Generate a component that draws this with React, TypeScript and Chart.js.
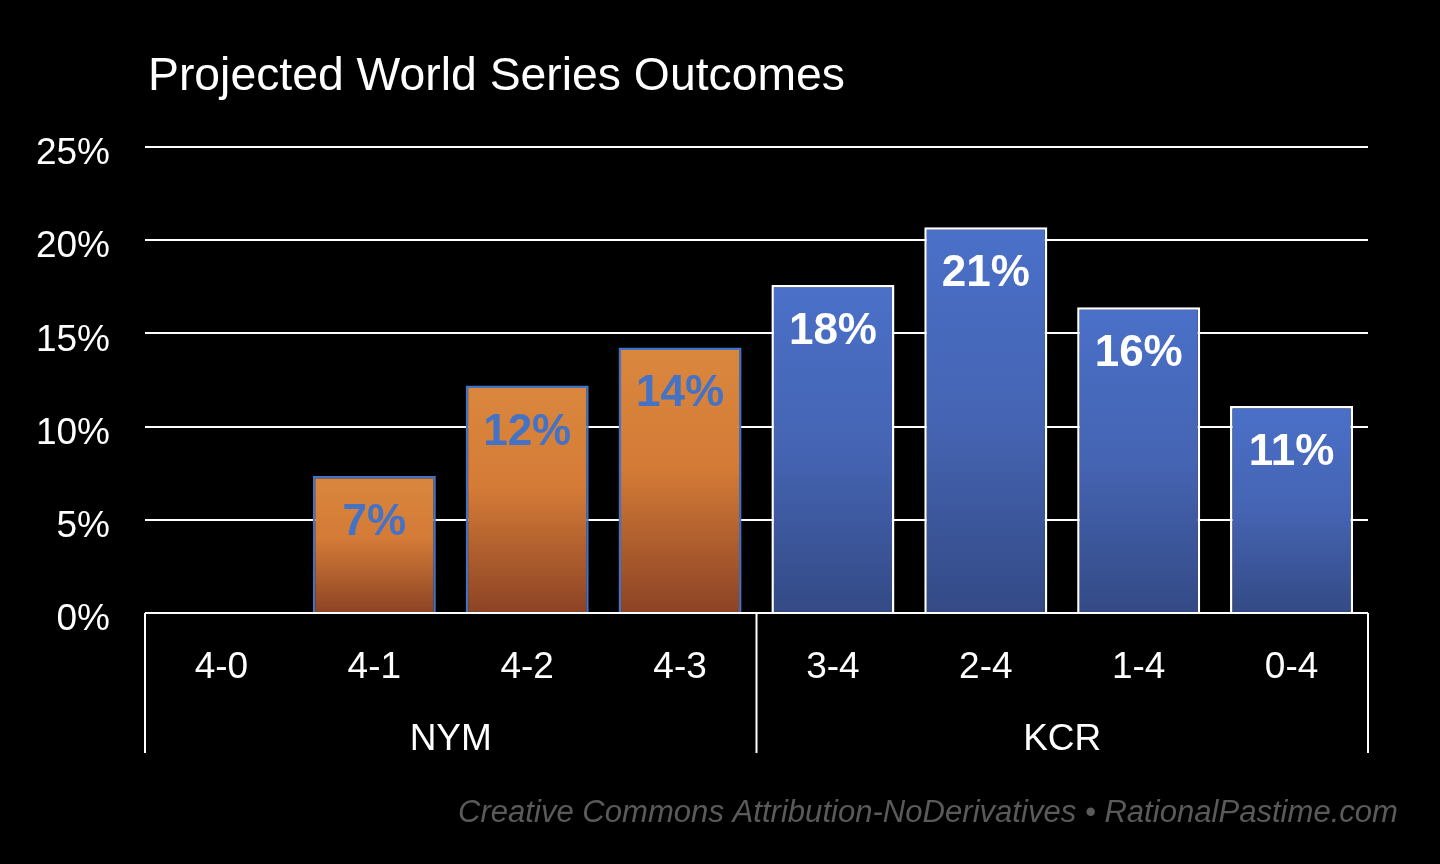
import { useEffect, useRef } from "react";
import { Chart, registerables } from "chart.js";

Chart.register(...registerables);

const TITLE = "Projected World Series Outcomes";
const FOOTER = "Creative Commons Attribution-NoDerivatives • RationalPastime.com";
const outcomes = ["4-0", "4-1", "4-2", "4-3", "3-4", "2-4", "1-4", "0-4"];
const winProbability = [0, 7.35, 12.2, 14.25, 17.6, 20.7, 16.4, 11.1];
const teams = ["NYM", "KCR"];
const teamGroupSize = [4, 4];
const yTickValues = [0, 5, 10, 15, 20, 25];

const FONT = "'Liberation Sans', Arial, Helvetica, sans-serif";

function teamIndexOf(i: number) {
  let acc = 0;
  for (let t = 0; t < teamGroupSize.length; t++) {
    acc += teamGroupSize[t];
    if (i < acc) return t;
  }
  return teamGroupSize.length - 1;
}

function fitText(
  ctx: CanvasRenderingContext2D,
  text: string,
  x: number,
  y: number,
  width: number,
  align: "left" | "right"
) {
  const w = ctx.measureText(text).width;
  const s = width / w;
  ctx.save();
  ctx.translate(x, y);
  ctx.scale(s, 1);
  ctx.textAlign = align;
  ctx.fillText(text, 0, 0);
  ctx.restore();
}

const decorPlugin = {
  id: "decor",
  afterDatasetsDraw(chart: any) {
    const ctx = chart.ctx as CanvasRenderingContext2D;
    const meta = chart.getDatasetMeta(0);
    ctx.save();
    ctx.font = `bold 44px ${FONT}`;
    ctx.textAlign = "center";
    ctx.textBaseline = "alphabetic";
    meta.data.forEach((bar: any, i: number) => {
      const v = winProbability[i];
      if (v < 1) return;
      ctx.fillStyle = teamIndexOf(i) === 0 ? "#4472C4" : "#FFFFFF";
      ctx.fillText(`${Math.round(v)}%`, bar.x, bar.y + 59);
    });
    ctx.restore();
  },
  afterDraw(chart: any) {
    const ctx = chart.ctx as CanvasRenderingContext2D;
    const x = chart.scales.x;
    const area = chart.chartArea;
    ctx.save();
    // group separators
    ctx.strokeStyle = "#FFFFFF";
    ctx.lineWidth = 2;
    const bottom = area.bottom + 140;
    const bounds: number[] = [x.left];
    let acc = 0;
    teamGroupSize.forEach((n) => {
      acc += n;
      const px =
        acc >= outcomes.length
          ? x.right
          : (x.getPixelForValue(acc - 1) + x.getPixelForValue(acc)) / 2;
      bounds.push(px);
    });
    bounds.forEach((bx) => {
      ctx.beginPath();
      ctx.moveTo(bx, area.bottom);
      ctx.lineTo(bx, bottom);
      ctx.stroke();
    });
    // group labels
    ctx.fillStyle = "#FFFFFF";
    ctx.font = `37px ${FONT}`;
    ctx.textAlign = "center";
    ctx.textBaseline = "alphabetic";
    teams.forEach((t, i) => {
      ctx.fillText(t, (bounds[i] + bounds[i + 1]) / 2, area.bottom + 137);
    });
    // title
    ctx.font = `46px ${FONT}`;
    ctx.fillStyle = "#FFFFFF";
    fitText(ctx, TITLE, 148, 90, 697, "left");
    // footer
    ctx.font = `italic 31px ${FONT}`;
    ctx.fillStyle = "#5A5A5A";
    fitText(ctx, FOOTER, 1398, 822, 940, "right");
    ctx.restore();
  },
};

function gradientFor(c: any) {
  const team = teamIndexOf(c.dataIndex);
  const fallback = team === 0 ? "#D27A36" : "#4565B5";
  const chart = c.chart;
  if (!chart.chartArea || c.type !== "data" || !chart.scales?.y) return fallback;
  const ys = chart.scales.y;
  const top = ys.getPixelForValue(winProbability[c.dataIndex]);
  const bot = ys.getPixelForValue(0);
  if (bot - top < 2) return fallback;
  const g = chart.ctx.createLinearGradient(0, top, 0, bot);
  if (team === 0) {
    g.addColorStop(0, "#DA873E");
    g.addColorStop(0.45, "#D47B37");
    g.addColorStop(1, "#8C4325");
  } else {
    g.addColorStop(0, "#4A70C8");
    g.addColorStop(0.5, "#4564B3");
    g.addColorStop(1, "#334A85");
  }
  return g;
}

export default function App() {
  const ref = useRef<HTMLCanvasElement | null>(null);
  useEffect(() => {
    document.body.style.margin = "0";
    document.body.style.background = "#000";
    const chart = new Chart(ref.current as HTMLCanvasElement, {
      type: "bar",
      data: {
        labels: outcomes,
        datasets: [
          {
            data: winProbability,
            backgroundColor: gradientFor as any,
            borderColor: outcomes.map((_, i) => (teamIndexOf(i) === 0 ? "#4472C4" : "#FFFFFF")),
            borderWidth: 2.5,
            borderSkipped: "start",
            categoryPercentage: 1,
            barPercentage: 0.805,
          },
        ],
      },
      options: {
        animation: false,
        responsive: true,
        maintainAspectRatio: false,
        layout: { padding: { top: 147, left: 0, right: 72, bottom: 0 } },
        plugins: {
          legend: { display: false },
          tooltip: { enabled: false },
          title: { display: false },
        },
        scales: {
          x: {
            grid: { display: false, drawTicks: false },
            border: { display: false },
            ticks: {
              color: "#FFFFFF",
              font: { family: FONT, size: 37 },
              padding: 33,
              maxRotation: 0,
              autoSkip: false,
            },
            afterFit: (s: any) => {
              s.height = 251;
            },
          },
          y: {
            min: 0,
            max: 25,
            afterBuildTicks: (s: any) => {
              s.ticks = yTickValues.map((v) => ({ value: v }));
            },
            grid: { color: "#FFFFFF", lineWidth: 2, drawTicks: false },
            border: { display: false },
            ticks: {
              color: "#FFFFFF",
              font: { family: FONT, size: 37 },
              padding: 35,
              labelOffset: 7,
              callback: (v: any) => `${v}%`,
            },
            afterFit: (s: any) => {
              s.width = 145;
            },
          },
        },
      },
      plugins: [decorPlugin],
    });
    return () => chart.destroy();
  }, []);
  return (
    <div style={{ width: 1440, height: 864, background: "#000", position: "relative" }}>
      <canvas ref={ref} />
    </div>
  );
}
